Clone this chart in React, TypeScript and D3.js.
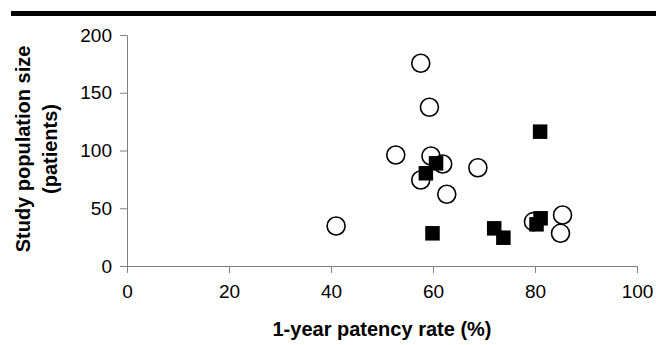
import React, { useEffect, useRef } from 'react';
import * as d3 from 'd3';

const width = 656;
const height = 345;
const margin = { top: 35, left: 127, right: 19, bottom: 79 };

// open circles
const circleX = [57.6, 59.3, 52.7, 59.6, 61.9, 57.6, 68.8, 62.7, 41.0, 79.7, 85.4, 85.0];
const circleY = [175.5, 137.4, 96.1, 95.2, 88.3, 74.5, 85.1, 62.1, 34.6, 38.4, 44.2, 28.3];

// filled squares
const squareX = [60.6, 58.6, 59.9, 72.0, 73.8, 81.0, 81.1, 80.3];
const squareY = [88.9, 80.3, 28.3, 32.6, 24.5, 116.3, 41.3, 36.1];

const xTicks = [0, 20, 40, 60, 80, 100];
const yTicks = [0, 50, 100, 150, 200];
const xTitle = '1-year patency rate (%)';
const yTitle = ['Study population size', '(patients)'];

const font = "Arial, 'Liberation Sans', sans-serif";

export default function App() {
  const ref = useRef<SVGSVGElement>(null);

  useEffect(() => {
    document.body.style.margin = '0';
    const svg = d3.select(ref.current);
    svg.selectAll('*').remove();

    const x = d3.scaleLinear().domain([0, 100]).range([margin.left, width - margin.right]);
    const y = d3.scaleLinear().domain([0, 200]).range([height - margin.bottom, margin.top]);

    // heavy rule across the top
    svg.append('rect')
      .attr('x', 11).attr('y', 11)
      .attr('width', width - 11).attr('height', 5)
      .attr('fill', '#000');

    const xAxis = svg.append('g')
      .attr('transform', `translate(0,${y(0)})`)
      .call(d3.axisBottom(x).tickValues(xTicks).tickSize(7).tickPadding(12).tickSizeOuter(0));
    const yAxis = svg.append('g')
      .attr('transform', `translate(${x(0)},0)`)
      .call(d3.axisLeft(y).tickValues(yTicks).tickSize(7).tickPadding(8).tickSizeOuter(0));

    [xAxis, yAxis].forEach(g => {
      g.select('.domain').attr('stroke', '#808080');
      g.selectAll('.tick line').attr('stroke', '#808080');
      g.selectAll('.tick text')
        .attr('fill', '#000')
        .attr('font-family', font)
        .attr('font-size', 19);
    });

    // circles
    svg.append('g')
      .selectAll('circle')
      .data(circleX.map((d, i) => [d, circleY[i]]))
      .join('circle')
      .attr('cx', d => x(d[0]))
      .attr('cy', d => y(d[1]))
      .attr('r', 9)
      .attr('fill', 'none')
      .attr('stroke', '#000')
      .attr('stroke-width', 1.6);

    // squares
    const s = 14.5;
    svg.append('g')
      .selectAll('rect')
      .data(squareX.map((d, i) => [d, squareY[i]]))
      .join('rect')
      .attr('x', d => x(d[0]) - s / 2)
      .attr('y', d => y(d[1]) - s / 2)
      .attr('width', s)
      .attr('height', s)
      .attr('fill', '#000');

    svg.append('text')
      .attr('x', (x(0) + x(100)) / 2)
      .attr('y', 336)
      .attr('text-anchor', 'middle')
      .attr('font-family', font)
      .attr('font-size', 20)
      .attr('font-weight', 'bold')
      .text(xTitle);

    svg.append('g')
      .selectAll('text')
      .data(yTitle)
      .join('text')
      .attr('transform', (d, i) => `translate(${i ? 57 : 30},149) rotate(-90)`)
      .attr('text-anchor', 'middle')
      .attr('font-family', font)
      .attr('font-size', 20)
      .attr('font-weight', 'bold')
      .text(d => d);
  }, []);

  return (
    <svg ref={ref} width={width} height={height} viewBox={`0 0 ${width} ${height}`}
      style={{ display: 'block', background: '#fff' }} />
  );
}
